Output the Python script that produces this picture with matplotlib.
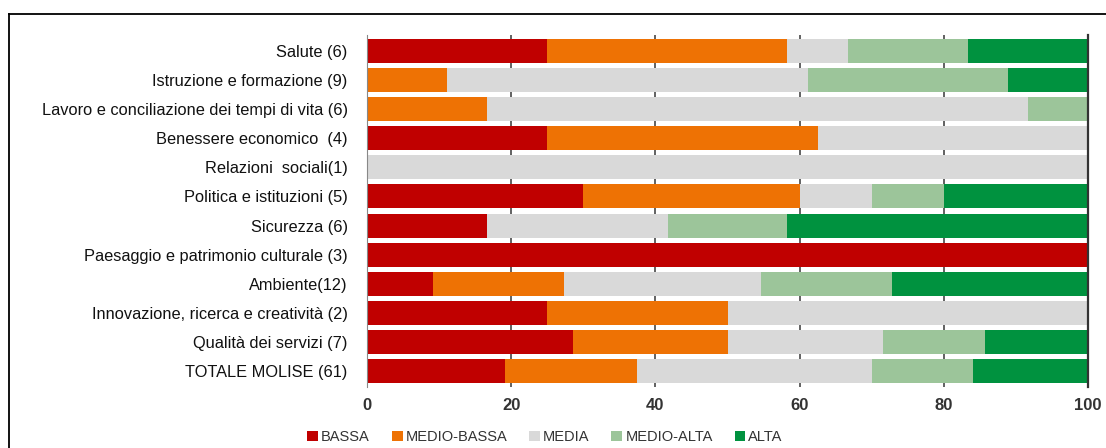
import matplotlib
matplotlib.use("Agg")
import matplotlib.pyplot as plt
from matplotlib.lines import Line2D
from matplotlib.patches import Patch
import numpy as np

categories = [
    "Salute (6)",
    "Istruzione e formazione (9)",
    "Lavoro e conciliazione dei tempi di vita (6)",
    "Benessere economico  (4)",
    "Relazioni  sociali(1)",
    "Politica e istituzioni (5)",
    "Sicurezza (6)",
    "Paesaggio e patrimonio culturale (3)",
    "Ambiente(12)",
    "Innovazione, ricerca e creatività (2)",
    "Qualità dei servizi (7)",
    "TOTALE MOLISE (61)",
]

bassa       = [25.0,  0.0,  0.0, 25.0,   0.0, 30.0, 16.7, 100.0,  9.1, 25.0, 28.6, 19.1]
medio_bassa = [33.3, 11.1, 16.7, 37.5,   0.0, 30.0,  0.0,   0.0, 18.2, 25.0, 21.4, 18.4]
media       = [ 8.4, 50.0, 75.0, 37.5, 100.0, 10.0, 25.0,   0.0, 27.3, 50.0, 21.5, 32.5]
medio_alta  = [16.6, 27.8,  8.3,  0.0,   0.0, 10.0, 16.6,   0.0, 18.2,  0.0, 14.2, 14.0]
alta        = [16.7, 11.1,  0.0,  0.0,   0.0, 20.0, 41.7,   0.0, 27.2,  0.0, 14.3, 16.0]

series_names = ["BASSA", "MEDIO-BASSA", "MEDIA", "MEDIO-ALTA", "ALTA"]
colors = ["#C00000", "#EE7204", "#D9D9D9", "#9CC59A", "#00923F"]

fig = plt.figure(figsize=(11.06, 4.48), dpi=100)
ax = fig.add_axes([367 / 1106, 61 / 448, 721 / 1106, 352 / 448])

y = np.arange(len(categories))
left = np.zeros(len(categories))
for vals, col in zip([bassa, medio_bassa, media, medio_alta, alta], colors):
    vals = np.array(vals)
    ax.barh(y, vals, left=left, height=0.825, color=col, linewidth=0, zorder=2)
    left += vals

ax.set_xlim(0, 100)
ax.set_ylim(11.55, -0.55)
ax.set_xticks([0, 20, 40, 60, 80, 100])
ax.set_yticks(y)
ax.set_yticklabels(categories, fontsize=11.8, family="Liberation Sans", color="#111111")
ax.set_xticklabels(["0", "20", "40", "60", "80", "100"], fontsize=12,
                   family="Liberation Sans", fontweight="bold", color="#333333")
ax.tick_params(axis="y", length=0, pad=14)
ax.tick_params(axis="x", length=0, pad=8)

# vertical gridlines only show through the gaps between bars
for gx in [20, 40, 60, 80]:
    ax.axvline(gx, color="#555555", lw=1.3, zorder=1)

for s in ["top", "bottom"]:
    ax.spines[s].set_visible(False)
ax.spines["left"].set_color("#888888")
ax.spines["left"].set_linewidth(0.8)
ax.spines["right"].set_color("#333333")
ax.spines["right"].set_linewidth(1.6)

handles = [Patch(facecolor=c, edgecolor="none") for c in colors]
fig.legend(handles, series_names, loc="center", ncol=5, frameon=False,
           bbox_to_anchor=(545 / 1106, 1 - 437 / 448),
           prop={"family": "Liberation Sans", "size": 10.5},
           handlelength=0.75, handleheight=0.75, handletextpad=0.2, columnspacing=1.5,
           labelcolor="#333333")

# outer frame of the chart area
fig.add_artist(Line2D([8.5 / 1106, 1.0], [433.5 / 448, 433.5 / 448],
                      transform=fig.transFigure, color="black", lw=1.3))
fig.add_artist(Line2D([8.5 / 1106, 8.5 / 1106], [0.0, 433.5 / 448],
                      transform=fig.transFigure, color="black", lw=1.3))

fig.savefig("out.png", dpi=100)
